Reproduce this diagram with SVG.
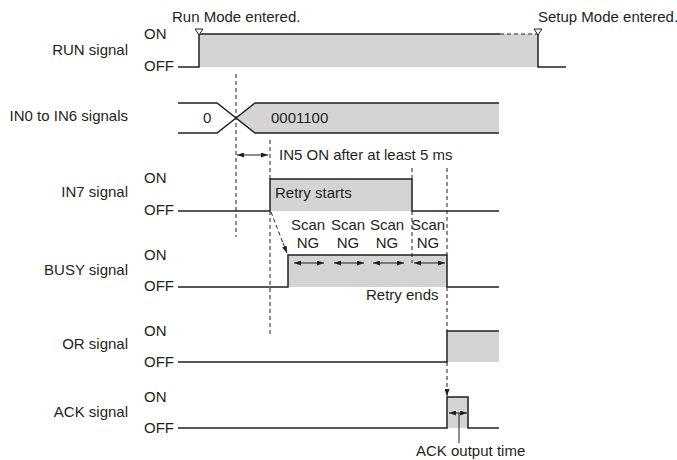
<svg xmlns="http://www.w3.org/2000/svg" width="677" height="460" viewBox="0 0 677 460">
<style>
text{font-family:"Liberation Sans",Arial,sans-serif;font-size:15px;fill:#231f20}
.lbl{text-anchor:end}
.sig{fill:none;stroke:#231f20;stroke-width:1.5}
.fill{fill:#d4d4d4;stroke:none}
.dash{fill:none;stroke:#231f20;stroke-width:1;stroke-dasharray:4 3}
.thin{fill:none;stroke:#231f20;stroke-width:1}
.mk{fill:#fff;stroke:#231f20;stroke-width:1}
</style>
<defs>
<marker id="ah" viewBox="0 0 7 5" refX="7" refY="2.5" markerWidth="7" markerHeight="5" markerUnits="userSpaceOnUse" orient="auto-start-reverse">
<path d="M0,0 L7,2.5 L0,5 Z" fill="#231f20"/>
</marker>
</defs>
<rect width="677" height="460" fill="#fff"/>

<g id="run">
<text class="lbl" x="128" y="55">RUN signal</text>
<text x="144" y="39">ON</text>
<text x="144" y="71">OFF</text>
<rect class="fill" x="199" y="34" width="339" height="33"/>
<path class="sig" d="M178,67 H199 V34 H500"/>
<path class="sig" d="M538,34 V67 H566"/>
<path class="dash" d="M500,34 H538"/>
<path class="mk" d="M195,29 H203 L199,35 Z"/>
<path class="mk" d="M534,29 H542 L538,35 Z"/>
<text x="172" y="22">Run Mode entered.</text>
<text x="538" y="22">Setup Mode entered.</text>
</g>

<g id="in0-in6">
<text class="lbl" x="128" y="121">IN0 to IN6 signals</text>
<path class="fill" d="M236,118 L255,103 H499 V133 H255 Z"/>
<path class="sig" d="M178,103 H217 L236,118 L217,133 H178"/>
<path class="sig" d="M499,103 H255 L236,118 L255,133 H499"/>
<text x="203" y="123">0</text>
<text x="271" y="123">0001100</text>
</g>

<g id="in7">
<text class="lbl" x="128" y="197">IN7 signal</text>
<text x="144" y="183">ON</text>
<text x="144" y="215">OFF</text>
<rect class="fill" x="270" y="179" width="142" height="32"/>
<path class="sig" d="M178,211 H270 V179 H412 V211 H499"/>
<text x="275" y="198">Retry starts</text>
</g>

<g id="busy">
<text class="lbl" x="128" y="275">BUSY signal</text>
<text x="144" y="260">ON</text>
<text x="144" y="291">OFF</text>
<rect class="fill" x="288" y="255" width="159" height="32"/>
<path class="sig" d="M178,287 H288 V255 H447 V287 H499"/>
<g text-anchor="middle">
<text x="308" y="230">Scan</text><text x="308" y="248">NG</text>
<text x="348" y="230">Scan</text><text x="348" y="248">NG</text>
<text x="387" y="230">Scan</text><text x="387" y="248">NG</text>
<text x="428" y="230">Scan</text><text x="428" y="248">NG</text>
</g>
<text x="366" y="300">Retry ends</text>
</g>

<g id="or">
<text class="lbl" x="128" y="349">OR signal</text>
<text x="144" y="336">ON</text>
<text x="144" y="367">OFF</text>
<rect class="fill" x="447" y="331" width="52" height="31"/>
<path class="sig" d="M178,362 H447 V331 H499"/>
</g>

<g id="ack">
<text class="lbl" x="128" y="417">ACK signal</text>
<text x="144" y="402">ON</text>
<text x="144" y="433">OFF</text>
<rect class="fill" x="447" y="397" width="21" height="31"/>
<path class="sig" d="M178,428 H447 V397 H468 V428 H499"/>
<text x="416" y="456">ACK output time</text>
</g>

<g id="connectors">
<path class="dash" d="M236,74 V237"/>
<path class="dash" d="M270,140 V179 M270,211 V334"/>
<path class="dash" d="M412,168 V179 M412,211 V263"/>
<path class="dash" d="M447,168 V255 M447,287 V331"/>
<path class="dash" d="M447,362 V389"/>
<path class="thin" d="M447,389 V396" marker-end="url(#ah)"/>
<path class="dash" d="M271,212 L283,243"/>
<path class="thin" d="M283,243 L287,253" marker-end="url(#ah)"/>
<path class="thin" d="M237,155 H268" marker-start="url(#ah)" marker-end="url(#ah)"/>
<text x="279" y="160">IN5 ON after at least 5 ms</text>
<path class="thin" d="M294,263 H324" marker-start="url(#ah)" marker-end="url(#ah)"/>
<path class="thin" d="M334,263 H364" marker-start="url(#ah)" marker-end="url(#ah)"/>
<path class="thin" d="M373,263 H404" marker-start="url(#ah)" marker-end="url(#ah)"/>
<path class="thin" d="M414,263 H445" marker-start="url(#ah)" marker-end="url(#ah)"/>
<path class="thin" d="M449,413 H467" marker-start="url(#ah)" marker-end="url(#ah)"/>
<path class="thin" d="M459,413 V443"/>
</g>
</svg>
